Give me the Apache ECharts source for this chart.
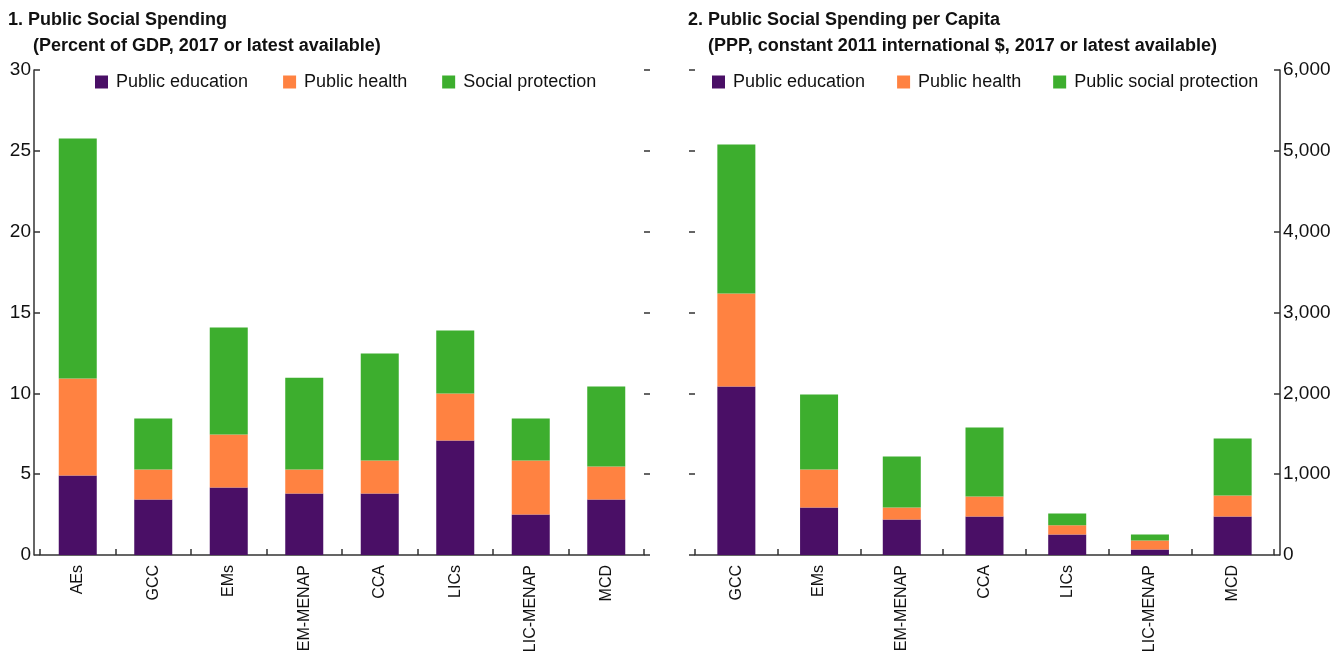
<!DOCTYPE html>
<html>
<head>
<meta charset="utf-8">
<script src="https://cdn.jsdelivr.net/npm/echarts@6/dist/echarts.min.js"></script>
<style>
html,body{margin:0;padding:0;background:#fff;}
#chart{width:1330px;height:656px;}
</style>
</head>
<body>
<div id="chart"></div>
<script>
// ---- Data ----
const leftCategories = ['AEs', 'GCC', 'EMs', 'EM-MENAP', 'CCA', 'LICs', 'LIC-MENAP', 'MCD'];
const leftEducation = [4.92, 3.43, 4.17, 3.80, 3.80, 7.08, 2.50, 3.43];
const leftHealth = [6.00, 1.86, 3.28, 1.49, 2.04, 2.91, 3.34, 2.04];
const leftSocial = [14.84, 3.15, 6.62, 5.68, 6.62, 3.89, 2.60, 4.95];
const leftTicks = [0, 5, 10, 15, 20, 25, 30];

const rightCategories = ['GCC', 'EMs', 'EM-MENAP', 'CCA', 'LICs', 'LIC-MENAP', 'MCD'];
const rightEducation = [2085, 588, 439, 476, 254, 68, 476];
const rightHealth = [1150, 470, 149, 248, 115, 111, 260];
const rightSocial = [1844, 928, 631, 853, 145, 75, 706];
const rightTicks = [0, 1000, 2000, 3000, 4000, 5000, 6000];

const leftTitle = ['1. Public Social Spending', '(Percent of GDP, 2017 or latest available)'];
const rightTitle = ['2. Public Social Spending per Capita', '(PPP, constant 2011 international $, 2017 or latest available)'];

// ---- Style ----
const FONT = '"Liberation Sans Narrow", "Arial Narrow", "Liberation Sans", Arial, sans-serif';
const C_EDU = '#4a0f66', C_HEALTH = '#ff8241', C_SOC = '#3dae2e';
const AXIS = '#333';

const chart = echarts.init(document.getElementById('chart'), null, {renderer: 'canvas'});

function catAxis(gridIndex, cats) {
  return {
    type: 'category', gridIndex: gridIndex, data: cats,
    axisLine: {show: true, lineStyle: {color: AXIS, width: 1.5}},
    axisTick: {show: true, inside: true, length: 6, alignWithLabel: false, lineStyle: {color: AXIS, width: 1.5}},
    axisLabel: {rotate: 90, margin: 10, color: '#111', fontFamily: FONT, fontSize: 16, interval: 0},
    splitLine: {show: false}
  };
}
function valAxis(gridIndex, pos, ticks, showLine, fmt) {
  const mn = ticks[0], mx = ticks[ticks.length - 1];
  return {
    type: 'value', gridIndex: gridIndex, position: pos,
    min: mn, max: mx, interval: ticks[1] - ticks[0],
    offset: showLine ? 6 : 0,
    axisLine: {show: showLine, lineStyle: {color: AXIS, width: 1.5}},
    axisTick: {show: true, inside: showLine, length: 6, lineStyle: {color: AXIS, width: 1.5}},
    axisLabel: {show: showLine, margin: 3, color: '#111', fontFamily: FONT, fontSize: 19, formatter: fmt},
    splitLine: {show: false}
  };
}
function bar(name, x, y, stack, data, color) {
  return {
    name: name, type: 'bar', xAxisIndex: x, yAxisIndex: y, stack: stack,
    data: data, barWidth: 38, itemStyle: {color: color}, emphasis: {disabled: true},
    animation: false
  };
}
const fmtThousands = v => v.toLocaleString('en-US');
const titleStyle = {fontFamily: FONT, fontSize: 18, fontWeight: 'bold', color: '#111'};
const legendText = {fontFamily: FONT, fontSize: 18, color: '#111', padding: [0, 0, 0, 3]};

chart.setOption({
  backgroundColor: '#fff',
  animation: false,
  title: [
    {text: leftTitle[0], left: 8, top: 11, padding: 0, textStyle: titleStyle},
    {text: leftTitle[1], left: 33, top: 37, padding: 0, textStyle: titleStyle},
    {text: rightTitle[0], left: 688, top: 11, padding: 0, textStyle: titleStyle},
    {text: rightTitle[1], left: 708, top: 37, padding: 0, textStyle: titleStyle}
  ],
  legend: [
    {data: ['Public education', 'Public health', 'Social protection'], left: 95, top: 73, padding: 0,
     width: 600, itemWidth: 13, itemHeight: 13, itemGap: 35, icon: 'rect', textStyle: legendText},
    {data: ['Public education', 'Public health', 'Public social protection'], left: 712, top: 73, padding: 0,
     width: 600, itemWidth: 13, itemHeight: 13, itemGap: 32, icon: 'rect', textStyle: legendText}
  ],
  grid: [
    {left: 40, width: 604, top: 70, height: 485, containLabel: false, outerBoundsMode: 'none'},
    {left: 695, width: 579, top: 70, height: 485, containLabel: false, outerBoundsMode: 'none'}
  ],
  xAxis: [catAxis(0, leftCategories), catAxis(1, rightCategories)],
  yAxis: [
    valAxis(0, 'left', leftTicks, true, v => String(v)),
    valAxis(0, 'right', leftTicks, false, v => String(v)),
    valAxis(1, 'left', rightTicks, false, fmtThousands),
    valAxis(1, 'right', rightTicks, true, fmtThousands)
  ],
  series: [
    bar('Public education', 0, 0, 'L', leftEducation, C_EDU),
    bar('Public health', 0, 0, 'L', leftHealth, C_HEALTH),
    bar('Social protection', 0, 0, 'L', leftSocial, C_SOC),
    bar('Public education', 1, 3, 'R', rightEducation, C_EDU),
    bar('Public health', 1, 3, 'R', rightHealth, C_HEALTH),
    bar('Public social protection', 1, 3, 'R', rightSocial, C_SOC)
  ]
});
</script>
</body>
</html>
